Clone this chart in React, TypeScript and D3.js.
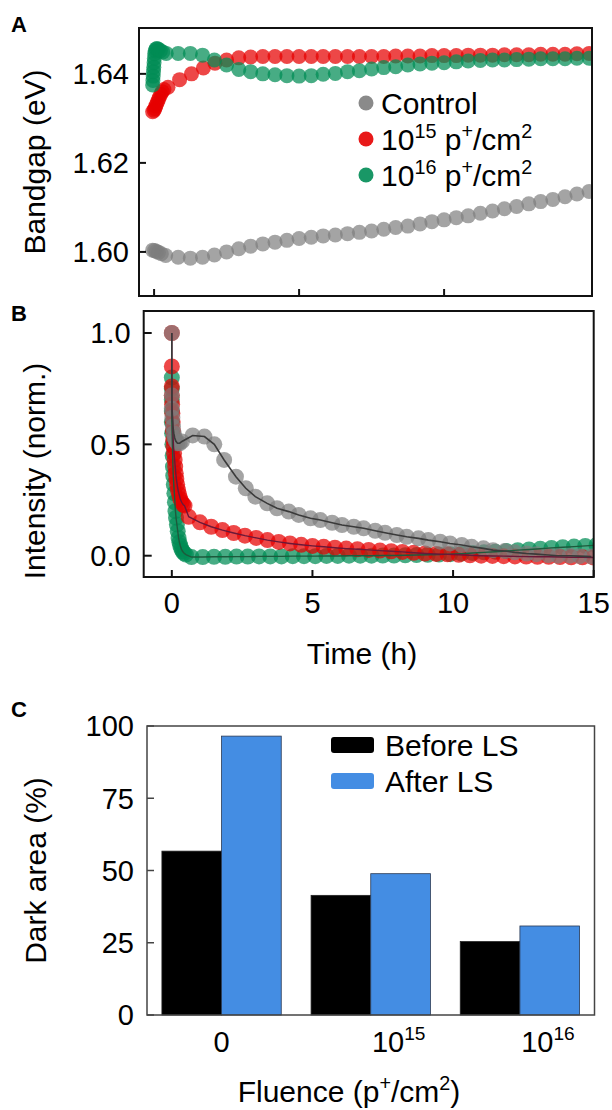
import React from "react";
import * as d3 from "d3";

const FONT = "'Liberation Sans', Arial, Helvetica, sans-serif";

// ---- panel A: bandgap (eV) vs time (h) ----
const bandgapControl: [number, number][] = [
  [-0.05, 1.6004], [0.02, 1.6003], [0.08, 1.6001], [0.15, 1.5999], [0.25, 1.5996], [0.4, 1.5992],
  [0.83, 1.5988], [1.25, 1.5986], [1.67, 1.5988], [2.08, 1.5993], [2.5, 1.6], [2.92, 1.6007],
  [3.33, 1.6013], [3.75, 1.6018], [4.17, 1.6022], [4.58, 1.6026], [5.0, 1.603], [5.42, 1.6033],
  [5.83, 1.6036], [6.25, 1.6038], [6.67, 1.6041], [7.08, 1.6044], [7.5, 1.6047], [7.92, 1.6051],
  [8.33, 1.6055], [8.75, 1.6058], [9.17, 1.6063], [9.58, 1.6068], [10.0, 1.6072], [10.42, 1.6077],
  [10.83, 1.6081], [11.25, 1.6087], [11.67, 1.6092], [12.08, 1.6097], [12.5, 1.6102], [12.92, 1.6108],
  [13.33, 1.6113], [13.75, 1.6118], [14.17, 1.6124], [14.58, 1.613], [15.0, 1.6136],
];
const bandgap1e15: [number, number][] = [
  [-0.05, 1.6315], [0, 1.6318], [0.03, 1.6322], [0.06, 1.6328], [0.1, 1.6334], [0.14, 1.634],
  [0.18, 1.6347], [0.23, 1.6354], [0.28, 1.636], [0.34, 1.6365],
  [0.48, 1.637], [0.88, 1.6387], [1.29, 1.64], [1.7, 1.6413], [2.1, 1.6424], [2.5, 1.6431],
  [2.92, 1.6436], [3.33, 1.6438], [3.75, 1.6439], [4.17, 1.6439], [4.58, 1.6439], [5.0, 1.6439],
  [5.42, 1.6439], [5.83, 1.6439], [6.25, 1.6439], [6.67, 1.6439], [7.08, 1.6439], [7.5, 1.6439],
  [7.92, 1.6439], [8.33, 1.644], [8.75, 1.644], [9.17, 1.644], [9.58, 1.6441], [10.0, 1.6441],
  [10.42, 1.6441], [10.83, 1.6442], [11.25, 1.6442], [11.67, 1.6442], [12.08, 1.6443], [12.5, 1.6443],
  [12.92, 1.6443], [13.33, 1.6444], [13.75, 1.6444], [14.17, 1.6444], [14.58, 1.6445], [15.0, 1.6446],
];
const bandgap1e16: [number, number][] = [
  [-0.05, 1.6375], [-0.04, 1.6385], [-0.03, 1.6395], [-0.02, 1.6405], [-0.01, 1.6415], [0, 1.6425],
  [0.01, 1.6435], [0.02, 1.6445], [0.04, 1.6452], [0.07, 1.6456], [0.1, 1.6457], [0.15, 1.6455],
  [0.22, 1.6452], [0.3, 1.6449], [0.42, 1.6446],
  [0.83, 1.6446], [1.25, 1.6446], [1.67, 1.6442], [2.08, 1.6431], [2.5, 1.642], [2.92, 1.641],
  [3.33, 1.6405], [3.75, 1.64], [4.17, 1.6398], [4.58, 1.6396], [5.0, 1.6395], [5.42, 1.6396],
  [5.83, 1.6399], [6.25, 1.6401], [6.67, 1.6405], [7.08, 1.6407], [7.5, 1.6411], [7.92, 1.6414],
  [8.33, 1.6416], [8.75, 1.642], [9.17, 1.6422], [9.58, 1.6424], [10.0, 1.6425], [10.42, 1.6427],
  [10.83, 1.6429], [11.25, 1.643], [11.67, 1.6431], [12.08, 1.6431], [12.5, 1.6432], [12.92, 1.6433],
  [13.33, 1.6434], [13.75, 1.6434], [14.17, 1.6434], [14.58, 1.6435], [15.0, 1.6435],
];

// ---- panel B: normalised intensity vs time (h) ----
const intensityControl: [number, number][] = [
  [0, 1.0], [0, 0.72], [0, 0.66], [0.02, 0.62], [0.04, 0.58], [0.07, 0.55], [0.1, 0.53],
  [0.14, 0.515], [0.2, 0.505], [0.28, 0.505], [0.36, 0.513],
  [0.74, 0.54], [1.16, 0.535], [1.51, 0.5], [1.86, 0.43], [2.28, 0.355], [2.63, 0.303],
  [2.97, 0.265], [3.39, 0.235], [3.74, 0.213], [4.16, 0.198], [4.51, 0.183], [4.93, 0.168],
  [5.28, 0.16], [5.7, 0.148], [6.05, 0.138], [6.47, 0.13], [6.82, 0.123], [7.23, 0.112],
  [7.58, 0.103], [8.0, 0.093], [8.35, 0.085], [8.77, 0.078], [9.12, 0.07], [9.54, 0.063],
  [9.89, 0.055], [10.31, 0.048], [10.66, 0.04], [11.08, 0.033], [11.42, 0.025], [11.84, 0.021],
  [12.19, 0.015], [12.61, 0.01], [12.96, 0.007], [13.38, 0.003], [13.73, 0.0], [14.15, 0.0],
  [14.5, -0.002], [14.92, -0.004],
];
const intensity1e15: [number, number][] = [
  [0, 1.0], [0, 0.85], [0, 0.76], [0, 0.72], [0.01, 0.68], [0.02, 0.64], [0.03, 0.6], [0.04, 0.56],
  [0.05, 0.52], [0.06, 0.49], [0.08, 0.46], [0.1, 0.43], [0.12, 0.4], [0.14, 0.37], [0.16, 0.345],
  [0.19, 0.32], [0.22, 0.295], [0.26, 0.275], [0.3, 0.255], [0.35, 0.24], [0.4, 0.23], [0.45, 0.225],
  [0.6, 0.175], [1.0, 0.15], [1.4, 0.13], [1.8, 0.115], [2.2, 0.102], [2.6, 0.09], [3.0, 0.08],
  [3.4, 0.07], [3.8, 0.062], [4.2, 0.055], [4.6, 0.049], [5.0, 0.044], [5.4, 0.04], [5.8, 0.036],
  [6.2, 0.032], [6.6, 0.029], [7.0, 0.026], [7.4, 0.023], [7.8, 0.02], [8.2, 0.017], [8.6, 0.013],
  [9.0, 0.01], [9.4, 0.008], [9.8, 0.006], [10.2, 0.004], [10.6, 0.002], [11.0, 0.0], [11.4, -0.001],
  [11.8, -0.002], [12.2, -0.003], [12.6, -0.004], [13.0, -0.005], [13.4, -0.005], [13.8, -0.006],
  [14.2, -0.007], [14.6, -0.007], [15.0, -0.008],
];
const intensity1e16: [number, number][] = [
  [0, 0.8], [0, 0.75], [0, 0.7], [0, 0.65], [0, 0.6], [0.01, 0.55], [0.02, 0.5], [0.03, 0.45],
  [0.04, 0.4], [0.05, 0.36], [0.07, 0.32], [0.09, 0.28], [0.11, 0.24], [0.13, 0.2], [0.15, 0.17],
  [0.18, 0.14], [0.21, 0.11], [0.24, 0.08], [0.27, 0.06], [0.3, 0.045], [0.34, 0.03], [0.38, 0.02],
  [0.43, 0.012], [0.5, 0.005],
  [0.7, -0.006], [1.1, -0.006], [1.5, -0.005], [1.9, -0.005], [2.3, -0.004], [2.7, -0.004],
  [3.1, -0.003], [3.5, -0.003], [3.9, -0.003], [4.3, -0.002], [4.7, -0.002], [5.1, -0.002],
  [5.5, -0.001], [5.9, -0.001], [6.3, 0.0], [6.7, 0.0], [7.1, 0.0], [7.5, 0.001], [7.9, 0.001],
  [8.3, 0.002], [8.7, 0.003], [9.1, 0.004], [9.5, 0.005], [9.9, 0.007], [10.3, 0.009], [10.7, 0.012],
  [11.1, 0.015], [11.5, 0.018], [11.9, 0.021], [12.3, 0.025], [12.7, 0.028], [13.1, 0.031],
  [13.5, 0.035], [13.9, 0.038], [14.3, 0.041], [14.7, 0.044], [15.1, 0.047],
];

// ---- panel C: dark area (%) per fluence ----
const fluenceGroups = ["0", "1e15", "1e16"];
const fluenceExponents = ["", "15", "16"];
const darkBefore = [56.7, 41.4, 25.4];
const darkAfter = [96.5, 48.9, 30.8];

const ticksAy = [1.6, 1.62, 1.64];
const ticksAx = [0, 5, 10];
const ticksBy = [0, 0.5, 1.0];
const ticksBx = [0, 5, 10, 15];
const ticksCy = [0, 25, 50, 75, 100];

const GRAY = "#7d7d7d";
const RED = "#e60000";
const GREEN = "#008c55";
const BLUE = "#448de3";

const TICK_FS = 29;
const TITLE_FS = 30;
const LEG_FS = 30;

type Pt = [number, number];
type Seg = { t: string; sup?: boolean };

function Dots({ data, x, y, color, r = 7.5, op = 0.72 }: any) {
  return (
    <g>
      {(data as Pt[]).map(([t, v], i) => (
        <circle key={i} cx={x(t)} cy={y(v)} r={r} fill={color} fillOpacity={op} />
      ))}
    </g>
  );
}

// text pieces with raised superscripts; the shift is undone on the next piece
function rich(segs: Seg[], fs: number) {
  const lift = fs * 0.4;
  return segs.map((s, i) => {
    const prev = i > 0 ? !!segs[i - 1].sup : false;
    const dy = s.sup && !prev ? -lift : !s.sup && prev ? lift : 0;
    return (
      <tspan key={i} dy={dy || undefined} fontSize={s.sup ? fs * 0.66 : undefined}>
        {s.t}
      </tspan>
    );
  });
}

const fluenceUnit = (exp: string): Seg[] => [
  { t: "10" },
  { t: exp, sup: true },
  { t: " p" },
  { t: "+", sup: true },
  { t: "/cm" },
  { t: "2", sup: true },
];

export default function App() {
  // panel A scales
  const xA = d3.scaleLinear().domain([-0.52, 15.1]).range([139, 592]);
  const yA = d3.scaleLinear().domain([1.5901, 1.6503]).range([296, 28]);
  // panel B scales
  const xB = d3.scaleLinear().domain([-1, 15]).range([143.7, 593.7]);
  const yB = d3.scaleLinear().domain([-0.0956, 1.0988]).range([577, 311]);
  // panel C scales
  const xC = d3.scaleBand().domain(fluenceGroups).range([147, 594.5]).paddingInner(0.2).paddingOuter(0.1);
  const yC = d3.scaleLinear().domain([0, 100]).range([1015, 726]);
  const bw = xC.bandwidth() / 2;

  const lineB = d3.line<Pt>().x((d) => xB(d[0])).y((d) => yB(d[1]));

  const [a0, a1] = xA.range();
  const [aB, aT] = yA.range();
  const [b0, b1] = xB.range();
  const [bB, bT] = yB.range();
  const [c0, c1] = xC.range();
  const [cB, cT] = yC.range();

  const legendA = [
    { color: GRAY, segs: [{ t: "Control" }] as Seg[] },
    { color: RED, segs: fluenceUnit("15") },
    { color: GREEN, segs: fluenceUnit("16") },
  ];

  return (
    <svg
      width={612}
      height={1110}
      style={{ position: "absolute", left: 0, top: 0, background: "#fff" }}
      fontFamily={FONT}
    >
      <defs>
        <clipPath id="clipA">
          <rect x={a0} y={aT} width={a1 - a0} height={aB - aT} />
        </clipPath>
        <clipPath id="clipB">
          <rect x={b0} y={bT} width={b1 - b0} height={bB - bT} />
        </clipPath>
      </defs>

      {/* ---------- A ---------- */}
      <text x={11} y={32} fontSize={22} fontWeight="bold">A</text>
      <g clipPath="url(#clipA)">
        <Dots data={bandgapControl} x={xA} y={yA} color={GRAY} op={0.7} />
        <Dots data={bandgap1e15} x={xA} y={yA} color={RED} />
        <Dots data={bandgap1e16} x={xA} y={yA} color={GREEN} />
      </g>
      <rect x={a0} y={aT} width={a1 - a0} height={aB - aT} fill="none" stroke="#111" strokeWidth={2} />
      {ticksAy.map((t) => (
        <g key={t}>
          <line x1={a0} x2={a0 + 7} y1={yA(t)} y2={yA(t)} stroke="#111" strokeWidth={2} />
          <text x={a0 - 10} y={yA(t) + TICK_FS * 0.36} fontSize={TICK_FS} textAnchor="end">
            {t.toFixed(2)}
          </text>
        </g>
      ))}
      {ticksAx.map((t) => (
        <line key={t} x1={xA(t)} x2={xA(t)} y1={aB} y2={aB - 7} stroke="#111" strokeWidth={2} />
      ))}
      <text
        transform={`translate(45,${(aT + aB) / 2}) rotate(-90)`}
        fontSize={TITLE_FS}
        textAnchor="middle"
      >
        Bandgap (eV)
      </text>
      {legendA.map((d, i) => (
        <g key={i} transform={`translate(366,${103 + i * 36})`}>
          <circle r={7.5} fill={d.color} fillOpacity={0.9} />
          <text x={15} y={LEG_FS * 0.36} fontSize={LEG_FS}>
            {rich(d.segs, LEG_FS)}
          </text>
        </g>
      ))}

      {/* ---------- B ---------- */}
      <text x={11} y={321} fontSize={22} fontWeight="bold">B</text>
      <g clipPath="url(#clipB)">
        <Dots data={intensity1e16} x={xB} y={yB} color={GREEN} r={8} />
        <Dots data={intensity1e15} x={xB} y={yB} color={RED} r={8} />
        <Dots data={intensityControl} x={xB} y={yB} color={GRAY} r={8} op={0.7} />
        <path d={lineB(intensity1e16) || ""} fill="none" stroke="#1d5a3c" strokeWidth={1.4} />
        <path d={lineB(intensity1e15) || ""} fill="none" stroke="#6a1838" strokeWidth={1.4} />
        <path d={lineB(intensityControl) || ""} fill="none" stroke="#3a3a3a" strokeWidth={1.6} />
      </g>
      <rect x={b0} y={bT} width={b1 - b0} height={bB - bT} fill="none" stroke="#111" strokeWidth={2} />
      {ticksBy.map((t) => (
        <g key={t}>
          <line x1={b0} x2={b0 + 8} y1={yB(t)} y2={yB(t)} stroke="#111" strokeWidth={2} />
          <text x={b0 - 13} y={yB(t) + TICK_FS * 0.36} fontSize={TICK_FS} textAnchor="end">
            {t.toFixed(1)}
          </text>
        </g>
      ))}
      {ticksBx.map((t) => (
        <g key={t}>
          <line x1={xB(t)} x2={xB(t)} y1={bB} y2={bB - 7} stroke="#111" strokeWidth={2} />
          <text x={xB(t)} y={613} fontSize={TICK_FS} textAnchor="middle">
            {t}
          </text>
        </g>
      ))}
      <text x={362} y={664} fontSize={TITLE_FS} textAnchor="middle">Time (h)</text>
      <text
        transform={`translate(45,${(bT + bB) / 2 + 27}) rotate(-90)`}
        fontSize={TITLE_FS}
        textAnchor="middle"
      >
        Intensity (norm.)
      </text>

      {/* ---------- C ---------- */}
      <text x={11} y={717} fontSize={22} fontWeight="bold">C</text>
      {fluenceGroups.map((g, i) => (
        <g key={g}>
          <rect
            x={xC(g) as number}
            y={yC(darkBefore[i])}
            width={bw}
            height={yC(0) - yC(darkBefore[i])}
            fill="#000"
            stroke="#222"
            strokeWidth={0.8}
          />
          <rect
            x={(xC(g) as number) + bw}
            y={yC(darkAfter[i])}
            width={bw}
            height={yC(0) - yC(darkAfter[i])}
            fill={BLUE}
            stroke="#2a3a55"
            strokeWidth={0.8}
          />
        </g>
      ))}
      <rect x={c0} y={cT} width={c1 - c0} height={cB - cT} fill="none" stroke="#444" strokeWidth={1.5} />
      {ticksCy.map((t) => (
        <g key={t}>
          <line x1={c0} x2={c0 + 7} y1={yC(t)} y2={yC(t)} stroke="#444" strokeWidth={1.5} />
          <text x={c0 - 13} y={yC(t) + TICK_FS * 0.36} fontSize={TICK_FS} textAnchor="end">
            {t}
          </text>
        </g>
      ))}
      {fluenceGroups.map((g, i) => {
        const cx = (xC(g) as number) + bw;
        return fluenceExponents[i] ? (
          <text key={g} x={cx + 28} y={1052} fontSize={TICK_FS} textAnchor="middle">
            {rich([{ t: "10" }, { t: fluenceExponents[i], sup: true }], TICK_FS)}
          </text>
        ) : (
          <text key={g} x={cx} y={1052} fontSize={TICK_FS} textAnchor="middle">
            {g}
          </text>
        );
      })}
      <text x={349} y={1102} fontSize={TITLE_FS} textAnchor="middle">
        {rich(
          [{ t: "Fluence (p" }, { t: "+", sup: true }, { t: "/cm" }, { t: "2", sup: true }, { t: ")" }],
          TITLE_FS
        )}
      </text>
      <text
        transform={`translate(46,${(cT + cB) / 2}) rotate(-90)`}
        fontSize={TITLE_FS}
        textAnchor="middle"
      >
        Dark area (%)
      </text>
      {[
        { color: "#000", label: "Before LS" },
        { color: BLUE, label: "After LS" },
      ].map((d, i) => (
        <g key={d.label} transform={`translate(331,${745 + i * 36})`}>
          <rect x={0} y={-8} width={43} height={16} rx={3} fill={d.color} />
          <text x={54} y={LEG_FS * 0.36} fontSize={LEG_FS}>{d.label}</text>
        </g>
      ))}
    </svg>
  );
}
